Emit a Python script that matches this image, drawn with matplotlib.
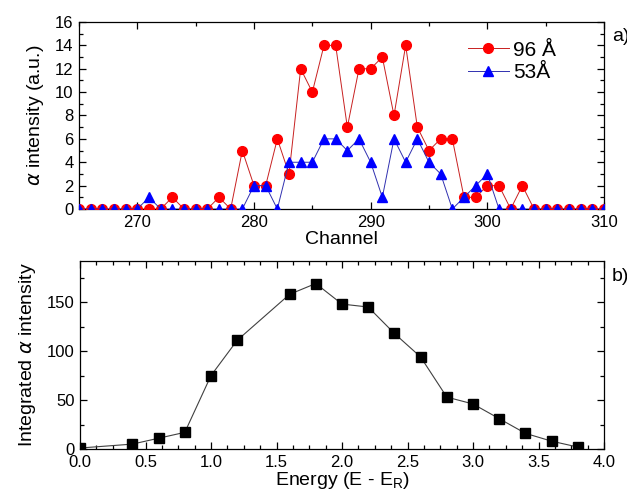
import numpy as np
import matplotlib.pyplot as plt
from matplotlib.ticker import MultipleLocator, AutoMinorLocator

plt.rcParams.update({
    "font.family": ["Liberation Sans", "DejaVu Sans"],
    "font.size": 12,
    "mathtext.fontset": "dejavusans",
})

# ---- panel a) data ----
channel = np.arange(265, 311)
counts_96 = [0, 0, 0, 0, 0, 0, 0, 0, 1, 0, 0, 0, 1, 0, 5, 2, 2, 6, 3, 12,
             10, 14, 14, 7, 12, 12, 13, 8, 14, 7, 5, 6, 6, 1, 1, 2, 2, 0, 2, 0,
             0, 0, 0, 0, 0, 0]
counts_53 = [0, 0, 0, 0, 0, 0, 1, 0, 0, 0, 0, 0, 0, 0, 0, 2, 2, 0, 4, 4,
             4, 6, 6, 5, 6, 4, 1, 6, 4, 6, 4, 3, 0, 1, 2, 3, 0, 0, 0, 0,
             0, 0, 0, 0, 0, 0]
labels_a = ["96 Å", "53Å"]

# ---- panel b) data ----
energy = [0.0, 0.4, 0.6, 0.8, 1.0, 1.2, 1.6, 1.8, 2.0, 2.2, 2.4, 2.6, 2.8,
          3.0, 3.2, 3.4, 3.6, 3.8]
integrated = [1, 5, 11, 17, 75, 111, 158, 169, 148, 145, 118, 94, 53,
              46, 31, 16, 8, 2]

fig = plt.figure(figsize=(6.27, 5.0), dpi=100)
ax_a = fig.add_axes([79 / 627, 1 - 209 / 500, 525 / 627, 187 / 500])
ax_b = fig.add_axes([80 / 627, 1 - 449 / 500, 524 / 627, 188 / 500])

ax_a.plot(channel, counts_96, color="#c82020", lw=0.7, marker="o", ms=7,
          mfc="#ff0000", mec="#ff0000", label=labels_a[0], zorder=3)
ax_a.plot(channel, counts_53, color="#3030b0", lw=0.7, marker="^", ms=7.5,
          mfc="#0000ff", mec="#0000ff", label=labels_a[1], zorder=4)
ax_a.set_xlim(265, 310)
ax_a.set_ylim(0, 16)
ax_a.xaxis.set_major_locator(MultipleLocator(10))
ax_a.xaxis.set_minor_locator(MultipleLocator(5))
ax_a.yaxis.set_major_locator(MultipleLocator(2))
ax_a.yaxis.set_minor_locator(MultipleLocator(1))
ax_a.set_xlabel("Channel", fontsize=14, labelpad=1)
ax_a.set_ylabel(r"$\alpha$ intensity (a.u.)", fontsize=14, labelpad=6)
ax_a.legend(loc="upper left", bbox_to_anchor=(0.74, 0.9), frameon=False,
            fontsize=15, handlelength=2.0, handletextpad=0.2, labelspacing=0.15,
            borderpad=0, borderaxespad=0)
ax_a.text(1.015, 0.92, "a)", transform=ax_a.transAxes, fontsize=14, va="center")

ax_b.plot(energy, integrated, color="#404040", lw=0.8, marker="s", ms=6.5,
          mfc="black", mec="black", zorder=3)
ax_b.set_xlim(0, 4)
ax_b.set_ylim(0, 192)
ax_b.xaxis.set_major_locator(MultipleLocator(0.5))
ax_b.xaxis.set_minor_locator(AutoMinorLocator(4))
ax_b.yaxis.set_major_locator(MultipleLocator(50))
ax_b.yaxis.set_minor_locator(MultipleLocator(25))
ax_b.set_xlabel(r"Energy (E - E$_\mathregular{R}$)", fontsize=14, labelpad=0)
ax_b.set_ylabel(r"Integrated $\alpha$ intensity", fontsize=14, labelpad=6)
ax_b.text(1.015, 0.92, "b)", transform=ax_b.transAxes, fontsize=14, va="center")

for ax in (ax_a, ax_b):
    ax.tick_params(which="both", direction="in", top=True, right=True,
                   labelsize=12, width=0.9, pad=4)
    ax.tick_params(which="major", length=5)
    ax.tick_params(which="minor", length=3)
    for s in ax.spines.values():
        s.set_linewidth(0.9)

fig.savefig("out.png", dpi=100)
